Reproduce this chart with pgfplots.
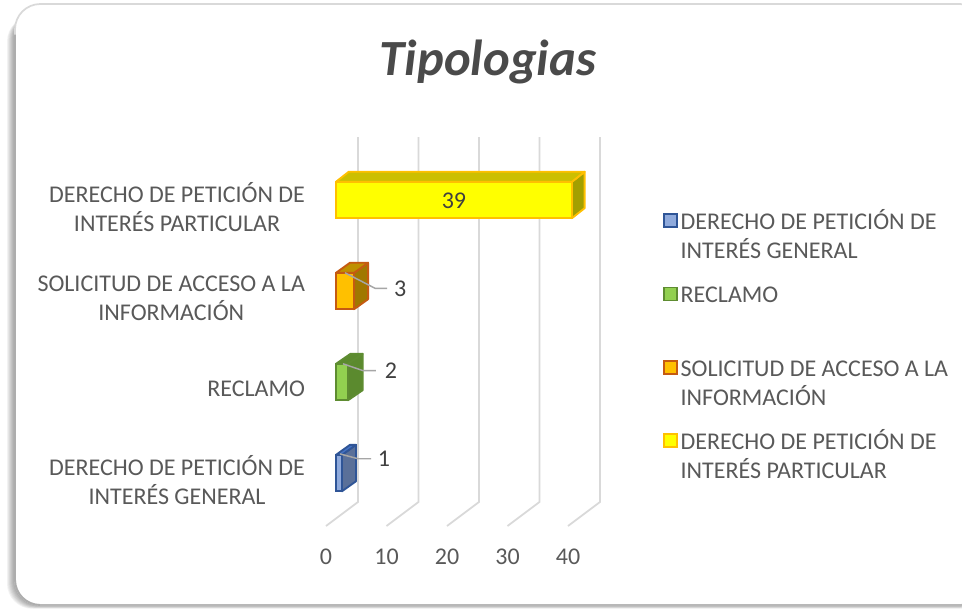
\documentclass[border=0pt]{standalone}
\usepackage{fontspec}
\setmainfont{Carlito}
\usepackage{pgfplots}
\pgfplotsset{compat=1.18}
\definecolor{txt}{HTML}{595959}
\definecolor{lab}{HTML}{404040}
\definecolor{ttl}{HTML}{4A4A4A}
\definecolor{gridc}{HTML}{D9D9D9}
\definecolor{leader}{HTML}{A6A6A6}
\definecolor{bluef}{HTML}{8FAADC}\definecolor{bluee}{HTML}{2F5597}\definecolor{blues}{HTML}{5A7099}\definecolor{bluet}{HTML}{4472C4}
\definecolor{greenf}{HTML}{92D050}\definecolor{greene}{HTML}{5E8C31}\definecolor{greens}{HTML}{5B8A2E}
\definecolor{orangef}{HTML}{FFC000}\definecolor{orangee}{HTML}{C55A11}\definecolor{oranges}{HTML}{A07800}\definecolor{oranget}{HTML}{BF9000}
\definecolor{yellowf}{HTML}{FFFF00}\definecolor{yellowe}{HTML}{FFC000}\definecolor{yellows}{HTML}{A3A000}\definecolor{yellowt}{HTML}{CCBF00}
\newcommand{\lfont}{\fontsize{18}{21.75}\selectfont}
\newcommand{\lent}[1]{\parbox[t]{230pt}{\lfont\rule{0pt}{16pt}#1}}
\pgfplotsset{
  swatch/.style={legend image code/.code={\draw[##1,line width=1.3pt,bar shift=0pt] (-2.2pt,-5.6pt) rectangle (7.6pt,4.2pt);}},
}
\begin{document}
\begin{tikzpicture}
\useasboundingbox (0,0) rectangle (721.5pt,456pt);
\begin{scope}
\clip (0,0) rectangle (721.5pt,456pt);
\foreach \i in {8,7,...,1}{
  \fill[black,opacity=0.05,rounded corners=19pt] ({11.25pt-0.75pt*\i},{2.25pt-0.35pt*\i}) rectangle (738.75pt,{447pt-0.4pt*\i});
}
\fill[white,rounded corners=19pt] (11.25pt,2.25pt) rectangle (738.75pt,453pt);
\draw[gridc,line width=1.3pt,rounded corners=19pt] (11.25pt,2.25pt) rectangle (738.75pt,453pt);
\draw[black!32,line width=1.4pt,rounded corners=19pt] (30pt,2.25pt) -| (11.25pt,430pt);
\draw[black!28,line width=1.2pt] (30pt,2.25pt) -- (721.5pt,2.25pt);
\end{scope}
% axis with the scale, the walls and the category labels
\begin{axis}[
  at={(244.5pt,61.5pt)},anchor=south west,
  scale only axis,width=181.5pt,height=291.75pt,
  xmin=0,xmax=40,ymin=-0.505,ymax=3.77,clip=false,
  axis line style={draw=none},tick style={draw=none},
  xtick={0,10,20,30,40},
  ytick={0,1,2,3},
  yticklabels={{DERECHO DE PETICIÓN DE\\INTERÉS GENERAL},{RECLAMO},{SOLICITUD DE ACCESO A LA\\INFORMACIÓN},{DERECHO DE PETICIÓN DE\\INTERÉS PARTICULAR}},
  yticklabel style={align=center,font=\lfont,text=txt,anchor=east,xshift=-12.2pt},
  xticklabel style={font=\lfont,text=txt,yshift=-13.5pt},
  /pgf/number format/assume math mode=true,
  title={\fontsize{38}{42}\selectfont\bfseries\itshape Tipologias},
  title style={at={(0.669,1.172)},anchor=center,text=ttl},
]
\addplot[gridc,line width=1.3pt] coordinates {(0,-0.505) (5.29,-0.241) (5.29,3.77)};
\addplot[gridc,line width=1.3pt] coordinates {(10,-0.505) (15.29,-0.241) (15.29,3.77)};
\addplot[gridc,line width=1.3pt] coordinates {(20,-0.505) (25.29,-0.241) (25.29,3.77)};
\addplot[gridc,line width=1.3pt] coordinates {(30,-0.505) (35.29,-0.241) (35.29,3.77)};
\addplot[gridc,line width=1.3pt] coordinates {(40,-0.505) (45.29,-0.241) (45.29,3.77)};
\end{axis}
% axis with the bars
\begin{axis}[
  at={(252pt,61.5pt)},anchor=south west,
  scale only axis,width=181.5pt,height=291.75pt,
  xmin=0,xmax=40,ymin=-0.582,ymax=3.692,clip=false,
  hide axis,
  legend style={at={(1.351,0.818)},anchor=north west,draw=none,fill=none,row sep=37.5pt,
    font=\lfont,text=txt,inner sep=0pt,nodes={inner xsep=2pt,inner ysep=0pt}},
  legend cell align=left,
]
% depth faces
\addplot[forget plot,fill=blues,draw=bluee,line width=1.4pt,line join=round] coordinates {(1,-0.2) (3.31,-0.09) (3.31,0.31) (1,0.2)} -- cycle;
\addplot[forget plot,fill=bluet,draw=bluee,line width=1.4pt,line join=round] coordinates {(0,0.2) (2.31,0.31) (3.31,0.31) (1,0.2)} -- cycle;
\addplot[forget plot,fill=greens,draw=greene,line width=1.4pt,line join=round] coordinates {(2,0.8) (4.4,0.91) (4.4,1.31) (2,1.2)} -- cycle;
\addplot[forget plot,fill=greens,draw=greene,line width=1.4pt,line join=round] coordinates {(0,1.2) (2.4,1.31) (4.4,1.31) (2,1.2)} -- cycle;
\addplot[forget plot,fill=oranges,draw=orangee,line width=1.4pt,line join=round] coordinates {(3,1.8) (5.3,1.91) (5.3,2.31) (3,2.2)} -- cycle;
\addplot[forget plot,fill=oranget,draw=orangee,line width=1.4pt,line join=round] coordinates {(0,2.2) (2.3,2.31) (5.3,2.31) (3,2.2)} -- cycle;
\addplot[forget plot,fill=yellows,draw=yellowe,line width=1.4pt,line join=round] coordinates {(39,2.8) (41.1,2.91) (41.1,3.31) (39,3.2)} -- cycle;
\addplot[forget plot,fill=yellowt,draw=yellowe,line width=1.4pt,line join=round] coordinates {(0,3.2) (2.1,3.31) (41.1,3.31) (39,3.2)} -- cycle;
% front faces
\addplot[xbar,bar width=27.4pt,bar shift=0pt,fill=bluef,draw=bluee,line width=1.4pt,swatch] coordinates {(1,0)};
\addplot[xbar,bar width=27.4pt,bar shift=0pt,fill=greenf,draw=greene,line width=1.4pt,swatch] coordinates {(2,1)};
\addplot[xbar,bar width=27.4pt,bar shift=0pt,fill=orangef,draw=orangee,line width=1.4pt,swatch] coordinates {(3,2)};
\addplot[xbar,bar width=27.4pt,bar shift=0pt,fill=yellowf,draw=yellowe,line width=1.4pt,swatch] coordinates {(39,3)};
% leader lines
\addplot[forget plot,leader,line width=1.1pt] coordinates {(0.66,0.21) (3.64,0.157) (5.79,0.157)};
\addplot[forget plot,leader,line width=1.1pt] coordinates {(1.16,1.2) (4.46,1.125) (6.6,1.125)};
\addplot[forget plot,leader,line width=1.1pt] coordinates {(1.49,2.2) (6.45,2.03) (8.43,2.03)};
% data labels
\addplot[forget plot,draw=none,mark=none,nodes near coords,point meta=explicit symbolic,
  every node near coord/.style={anchor=center,font=\lfont,text=lab}]
  coordinates {(7.93,0.154)[1] (9.1,1.12)[2] (10.6,2.02)[3] (19.5,2.99)[39]};
\legend{\lent{DERECHO DE PETICIÓN DE\\INTERÉS GENERAL},\lent{RECLAMO},\lent{SOLICITUD DE ACCESO A LA\\INFORMACIÓN},\lent{DERECHO DE PETICIÓN DE\\INTERÉS PARTICULAR}}
\end{axis}
\end{tikzpicture}
\end{document}
